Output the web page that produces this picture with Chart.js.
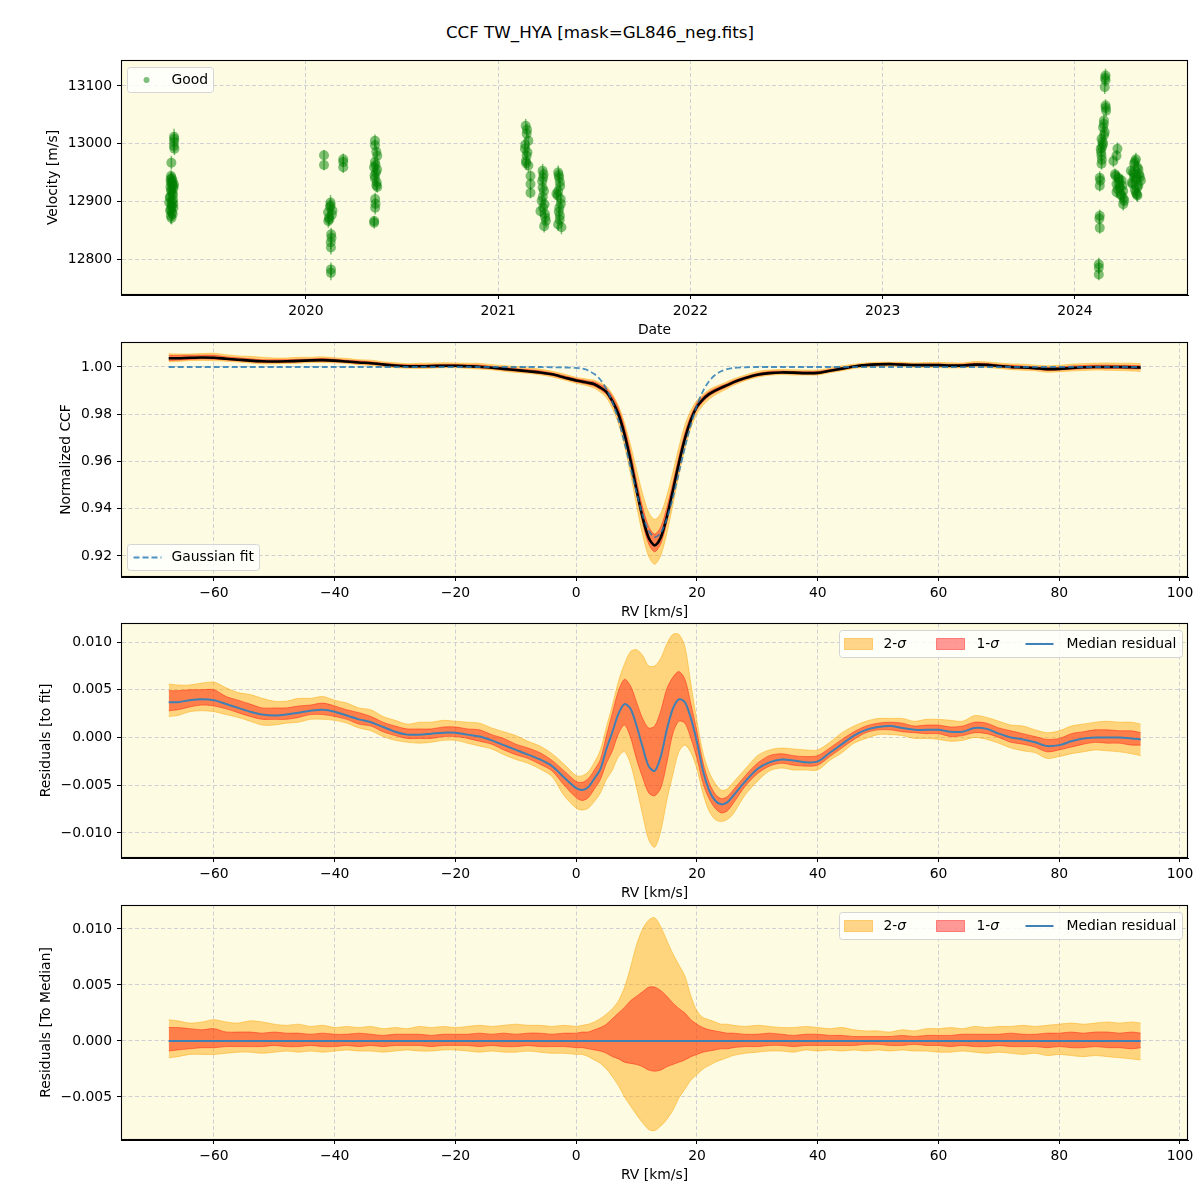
<!DOCTYPE html>
<html>
<head>
<meta charset="utf-8">
<script src="https://cdn.jsdelivr.net/npm/chart.js@4.4.1/dist/chart.umd.min.js"></script>
<style>
  body { margin: 0; background: #fff; width: 1200px; height: 1200px; position: relative; overflow: hidden; font-family: "DejaVu Sans", sans-serif; }
  #title { position: absolute; left: 0; top: 22px; width: 1200px; text-align: center; font-size: 16.7px; color: #000; }
  canvas { position: absolute; left: 0; }
</style>
</head>
<body>
<div id="title">CCF TW_HYA [mask=GL846_neg.fits]</div>
<canvas id="c1" width="1200" height="305" style="top:40px"></canvas>
<canvas id="c2" width="1200" height="305" style="top:322px"></canvas>
<canvas id="c3" width="1200" height="305" style="top:603px"></canvas>
<canvas id="c4" width="1200" height="305" style="top:885px"></canvas>
<script>
// ---------- data: top panel (RV time series) ----------
const yearTicks = [2020, 2021, 2022, 2023, 2024];
const velTicks = [12800, 12900, 13000, 13100];

const obsDate = [
  2019.314, 2019.314, 2019.316, 2019.300, 2019.298, 2019.297, 2019.305, 2019.310, 2019.300, 2019.308, 2019.292, 2019.303,
  2019.300, 2019.311, 2019.293, 2019.303, 2019.297, 2019.306, 2019.295, 2019.309, 2019.289, 2019.313, 2019.302,
  2020.094, 2020.094, 2020.194, 2020.194, 2020.194,
  2020.128, 2020.115, 2020.138, 2020.120, 2020.116, 2020.128, 2020.133, 2020.130, 2020.130, 2020.130,
  2020.359, 2020.359, 2020.371, 2020.359, 2020.354, 2020.364, 2020.359, 2020.368, 2020.371, 2020.360, 2020.360, 2020.355, 2020.355,
  2021.143, 2021.148, 2021.157, 2021.139, 2021.148, 2021.144, 2021.157,
  2021.168, 2021.168, 2021.168,
  2021.231, 2021.234, 2021.231, 2021.226, 2021.234, 2021.243, 2021.248, 2021.239, 2021.220,
  2021.312, 2021.317, 2021.321, 2021.312, 2021.325, 2021.318, 2021.321, 2021.312, 2021.329, 2021.303,
  2024.159, 2024.159, 2024.155, 2024.159, 2024.162, 2024.151, 2024.146, 2024.155, 2024.138, 2024.146, 2024.134,
  2024.138, 2024.138, 2024.129, 2024.129, 2024.129, 2024.129, 2024.124, 2024.124, 2024.151, 2024.141,
  2024.221, 2024.216, 2024.200,
  2024.208, 2024.225, 2024.243, 2024.216, 2024.234, 2024.251, 2024.216, 2024.243, 2024.256, 2024.251,
  2024.317, 2024.308, 2024.325, 2024.291, 2024.334, 2024.308, 2024.343, 2024.299, 2024.325, 2024.317, 2024.325, 2024.308,
  // points hidden inside the dense blobs
  2019.296, 2019.304, 2019.312, 2019.299, 2019.306, 2019.294, 2019.310, 2019.302, 2019.298, 2019.307, 2019.301, 2019.315, 2019.313,
  2020.125, 2020.135, 2020.122, 2020.131, 2020.129,
  2020.366, 2020.362, 2020.370, 2020.357, 2020.366, 2020.362,
  2021.150, 2021.141, 2021.152, 2021.146,
  2021.236, 2021.229, 2021.238, 2021.241, 2021.245, 2021.232,
  2021.315, 2021.322, 2021.310, 2021.326, 2021.315, 2021.320,
  2024.157, 2024.160, 2024.150, 2024.144, 2024.136, 2024.140, 2024.132, 2024.127, 2024.124,
  2024.212, 2024.230, 2024.247, 2024.222, 2024.238, 2024.253, 2024.228,
  2024.312, 2024.330, 2024.302, 2024.338, 2024.320, 2024.296, 2024.330, 2024.312, 2024.322
];
const obsVel = [
  13012, 13003, 12991, 12967, 12944, 12933, 12928, 12922, 12917, 12911, 12906, 12900,
  12894, 12889, 12884, 12881, 12875, 12936, 12925, 12903, 12898, 12930, 12940,
  12980, 12963, 12973, 12968, 12959,
  12898, 12881, 12884, 12872, 12866, 12893, 12837, 12820, 12782, 12776,
  13005, 12997, 12979, 12968, 12959, 12950, 12940, 12933, 12925, 12904, 12889, 12866, 12863,
  13031, 13017, 13005, 12991, 12979, 12970, 12962,
  12944, 12930, 12915,
  12953, 12941, 12924, 12901, 12889, 12878, 12866, 12857, 12883,
  12950, 12941, 12933, 12918, 12904, 12889, 12875, 12860, 12855, 12913,
  13118, 13110, 13098, 13066, 13057, 13040, 13028, 13020, 13008, 12999, 12991,
  12979, 12965, 12941, 12927, 12875, 12854, 12791, 12773, 13015, 12994,
  12991, 12979, 12970,
  12947, 12941, 12936, 12930, 12924, 12918, 12916, 12910, 12901, 12895,
  12973, 12965, 12959, 12953, 12947, 12941, 12936, 12930, 12924, 12915, 12910, 12947,
  12938, 12932, 12926, 12920, 12914, 12908, 12896, 12891, 12886, 12878, 12871, 13008, 12996,
  12890, 12877, 12869, 12843, 12829,
  12986, 12963, 12955, 12945, 12928, 12896,
  13024, 12998, 12985, 12966,
  12947, 12935, 12918, 12895, 12872, 12908,
  12945, 12926, 12910, 12896, 12882, 12868,
  13114, 13062, 13034, 13003, 12985, 12972, 12936, 12870, 12785,
  12944, 12938, 12927, 12921, 12912, 12905, 12932,
  12969, 12955, 12950, 12942, 12938, 12933, 12928, 12920, 12912
];
const obsErr = [
  14, 12, 11, 12, 10, 11, 12, 13, 11, 12, 10, 12,
  11, 12, 13, 11, 14, 12, 11, 12, 10, 12, 11,
  9, 9, 10, 9, 10,
  13, 12, 12, 11, 12, 12, 11, 12, 12, 13,
  11, 10, 12, 11, 10, 11, 12, 11, 10, 11, 12, 9, 10,
  12, 11, 12, 11, 10, 11, 12,
  10, 11, 10,
  12, 11, 10, 11, 12, 11, 12, 11, 10,
  12, 11, 12, 11, 10, 11, 12, 11, 12, 11,
  12, 11, 12, 11, 10, 11, 10, 11, 10, 11, 10,
  11, 10, 11, 10, 11, 10, 11, 10, 11, 10,
  11, 10, 11,
  10, 11, 10, 11, 10, 11, 10, 11, 10, 11,
  11, 10, 11, 10, 11, 10, 11, 10, 11, 10, 11, 10,
  11, 12, 11, 12, 11, 12, 11, 12, 11, 12, 11, 12, 11,
  12, 11, 12, 11, 12,
  11, 10, 11, 10, 11, 10,
  11, 12, 11, 12,
  11, 10, 11, 10, 11, 10,
  11, 10, 11, 10, 11, 10,
  11, 10, 11, 10, 11, 10, 11, 10, 11,
  10, 11, 10, 11, 10, 11, 10,
  11, 10, 11, 10, 11, 10, 11, 10, 11
];

// ---------- data: CCF panels ----------
const rvTicks = [-60, -40, -20, 0, 20, 40, 60, 80, 100];
const ccfTicks = [0.92, 0.94, 0.96, 0.98, 1.00];
const fitTicks = [-0.010, -0.005, 0.000, 0.005, 0.010];
const medTicks = [-0.005, 0.000, 0.005, 0.010];

const rv = [
  -67.5, -66, -64, -62, -60, -58, -56, -54, -52, -50, -48, -46, -44, -42, -40, -38, -36, -34, -32, -30,
  -28, -26, -24, -22, -20, -18, -16, -14, -12, -10, -8, -6, -4, -2, 0,
  1, 2, 3, 4, 5, 6, 7, 8, 9, 10, 11, 12, 13, 14, 15, 16, 17, 18, 19, 20, 21, 22, 23, 24, 25, 26,
  28, 30, 32, 34, 36, 38, 40, 42, 44, 46, 48, 50, 52, 54, 56, 58, 60, 62, 64, 66,
  68, 70, 72, 74, 76, 78, 80, 82, 84, 86, 88, 90, 92, 93.5
];
// gaussian fit (dashed line, panel 2)
const gaussFit = [
  1.0000, 1.0000, 1.0000, 1.0000, 1.0000, 1.0000, 1.0000, 1.0000, 1.0000, 1.0000, 1.0000, 1.0000, 1.0000, 1.0000, 1.0000, 1.0000, 1.0000, 1.0000, 1.0000, 1.0000,
  1.0000, 1.0000, 1.0000, 1.0000, 1.0000, 1.0000, 1.0000, 1.0000, 1.0000, 1.0000, 1.0000, 1.0000, 0.9999, 0.9998, 0.9996,
  0.9993, 0.9985, 0.9970, 0.9946, 0.9907, 0.9850, 0.9775, 0.9680, 0.9574, 0.9467, 0.9373, 0.9307, 0.9280, 0.9298, 0.9357, 0.9446, 0.9552, 0.9660, 0.9757, 0.9837, 0.9898, 0.9940, 0.9966, 0.9982, 0.9991, 0.9996,
  0.9999, 1.0000, 1.0000, 1.0000, 1.0000, 1.0000, 1.0000, 1.0000, 1.0000, 1.0000, 1.0000, 1.0000, 1.0000, 1.0000, 1.0000, 1.0000, 1.0000, 1.0000, 1.0000, 1.0000,
  1.0000, 1.0000, 1.0000, 1.0000, 1.0000, 1.0000, 1.0000, 1.0000, 1.0000, 1.0000, 1.0000, 1.0000, 1.0000, 1.0000
];
// median residual to the fit (panel 3 blue line)
const medResid = [
  0.0037, 0.0037, 0.0039, 0.0040, 0.0039, 0.0035, 0.0031, 0.0027, 0.0024, 0.0023, 0.0024, 0.0026, 0.0028, 0.0029, 0.0027, 0.0023, 0.0019, 0.0016, 0.0011, 0.0006,
  0.0003, 0.0003, 0.0004, 0.0005, 0.0005, 0.0003, 0.0001, -0.0003, -0.0008, -0.0013, -0.0018, -0.0023, -0.0030, -0.0042, -0.0053,
  -0.0055, -0.0052, -0.0043, -0.0033, -0.0012, 0.0006, 0.0025, 0.0035, 0.0030, 0.0012, -0.0010, -0.0030, -0.0035, -0.0020, 0.0008, 0.0030, 0.0040, 0.0037, 0.0020, -0.0005, -0.0035, -0.0055, -0.0066, -0.0070, -0.0068, -0.0061,
  -0.0046, -0.0033, -0.0026, -0.0023, -0.0024, -0.0026, -0.0025, -0.0016, -0.0007, 0.0002, 0.0008, 0.0011, 0.0012, 0.0010, 0.0008, 0.0008, 0.0008, 0.0006, 0.0006, 0.0010,
  0.0009, 0.0004, 0.0000, -0.0002, -0.0005, -0.0009, -0.0008, -0.0004, -0.0001, 0.0000, 0.0000, 0.0000, -0.0001, -0.0002
];
// spread around the median CCF (panel 4), also used for panel 2
const sig2Up = [
  0.0019, 0.0018, 0.0016, 0.0017, 0.0019, 0.0017, 0.0016, 0.0018, 0.0017, 0.0015, 0.0014, 0.0015, 0.0013, 0.0014, 0.0012, 0.0013, 0.0012, 0.0013, 0.0011, 0.0012,
  0.0011, 0.0013, 0.0012, 0.0013, 0.0012, 0.0013, 0.0014, 0.0013, 0.0014, 0.0015, 0.0014, 0.0014, 0.0013, 0.0014, 0.0013,
  0.0014, 0.0015, 0.0017, 0.0020, 0.0024, 0.0029, 0.0036, 0.0048, 0.0066, 0.0086, 0.0100, 0.0108, 0.0110, 0.0102, 0.0090, 0.0078, 0.0068, 0.0058, 0.0040, 0.0027, 0.0021, 0.0019, 0.0017, 0.0015, 0.0015, 0.0014,
  0.0013, 0.0014, 0.0013, 0.0012, 0.0012, 0.0013, 0.0012, 0.0011, 0.0012, 0.0010, 0.0009, 0.0009, 0.0008, 0.0010, 0.0009, 0.0011, 0.0011, 0.0012, 0.0011, 0.0013,
  0.0012, 0.0013, 0.0013, 0.0014, 0.0013, 0.0014, 0.0015, 0.0016, 0.0015, 0.0016, 0.0017, 0.0016, 0.0017, 0.0016
];
const sig1Up = [
  0.0012, 0.0012, 0.0011, 0.0010, 0.0011, 0.0008, 0.0008, 0.0008, 0.0007, 0.0008, 0.0007, 0.0007, 0.0006, 0.0007, 0.0006, 0.0006, 0.0007, 0.0006, 0.0005, 0.0006,
  0.0006, 0.0006, 0.0005, 0.0006, 0.0006, 0.0006, 0.0007, 0.0006, 0.0007, 0.0006, 0.0007, 0.0007, 0.0006, 0.0007, 0.0007,
  0.0008, 0.0008, 0.0010, 0.0012, 0.0015, 0.0020, 0.0025, 0.0030, 0.0036, 0.0040, 0.0044, 0.0048, 0.0048, 0.0045, 0.0040, 0.0034, 0.0029, 0.0025, 0.0019, 0.0015, 0.0012, 0.0010, 0.0009, 0.0008, 0.0007, 0.0007,
  0.0006, 0.0006, 0.0007, 0.0006, 0.0005, 0.0006, 0.0006, 0.0005, 0.0005, 0.0004, 0.0004, 0.0004, 0.0004, 0.0005, 0.0004, 0.0005, 0.0005, 0.0005, 0.0006, 0.0006,
  0.0006, 0.0006, 0.0007, 0.0006, 0.0006, 0.0007, 0.0007, 0.0008, 0.0007, 0.0008, 0.0008, 0.0007, 0.0008, 0.0007
];
const sig1Dn = [
  -0.0009, -0.0008, -0.0007, -0.0006, -0.0006, -0.0005, -0.0005, -0.0005, -0.0005, -0.0004, -0.0005, -0.0005, -0.0004, -0.0005, -0.0005, -0.0004, -0.0005, -0.0004, -0.0005, -0.0004,
  -0.0004, -0.0004, -0.0005, -0.0004, -0.0004, -0.0004, -0.0005, -0.0004, -0.0005, -0.0005, -0.0004, -0.0005, -0.0005, -0.0005, -0.0006,
  -0.0006, -0.0007, -0.0008, -0.0009, -0.0011, -0.0014, -0.0016, -0.0019, -0.0020, -0.0021, -0.0023, -0.0026, -0.0027, -0.0026, -0.0023, -0.0021, -0.0019, -0.0017, -0.0014, -0.0012, -0.0010, -0.0009, -0.0008, -0.0007, -0.0007, -0.0006,
  -0.0005, -0.0005, -0.0004, -0.0004, -0.0005, -0.0004, -0.0004, -0.0004, -0.0004, -0.0004, -0.0003, -0.0003, -0.0004, -0.0004, -0.0003, -0.0004, -0.0004, -0.0005, -0.0004, -0.0005,
  -0.0005, -0.0004, -0.0005, -0.0005, -0.0005, -0.0006, -0.0005, -0.0006, -0.0006, -0.0005, -0.0006, -0.0006, -0.0007, -0.0006
];
const sig2Dn = [
  -0.0015, -0.0014, -0.0012, -0.0012, -0.0012, -0.0011, -0.0010, -0.0010, -0.0011, -0.0010, -0.0009, -0.0010, -0.0009, -0.0010, -0.0009, -0.0008, -0.0009, -0.0009, -0.0010, -0.0009,
  -0.0008, -0.0009, -0.0009, -0.0008, -0.0008, -0.0009, -0.0010, -0.0009, -0.0010, -0.0010, -0.0009, -0.0010, -0.0011, -0.0011, -0.0012,
  -0.0012, -0.0014, -0.0017, -0.0020, -0.0025, -0.0032, -0.0040, -0.0050, -0.0058, -0.0066, -0.0073, -0.0079, -0.0080, -0.0076, -0.0070, -0.0062, -0.0051, -0.0043, -0.0035, -0.0030, -0.0025, -0.0022, -0.0019, -0.0017, -0.0015, -0.0013,
  -0.0011, -0.0010, -0.0009, -0.0009, -0.0010, -0.0008, -0.0009, -0.0008, -0.0009, -0.0008, -0.0009, -0.0008, -0.0009, -0.0008, -0.0009, -0.0009, -0.0010, -0.0010, -0.0009, -0.0010,
  -0.0011, -0.0010, -0.0011, -0.0012, -0.0011, -0.0013, -0.0012, -0.0013, -0.0014, -0.0013, -0.0014, -0.0015, -0.0016, -0.0017
];
// spread of the residuals to the fit (panel 3)
const fit2Up = [
  0.0019, 0.0018, 0.0016, 0.0017, 0.0019, 0.0017, 0.0016, 0.0018, 0.0017, 0.0015, 0.0014, 0.0015, 0.0013, 0.0014, 0.0012, 0.0013, 0.0012, 0.0013, 0.0011, 0.0012,
  0.0011, 0.0013, 0.0012, 0.0013, 0.0012, 0.0013, 0.0014, 0.0013, 0.0014, 0.0015, 0.0014, 0.0014, 0.0013, 0.0014, 0.0013,
  0.0015, 0.0016, 0.0017, 0.0020, 0.0023, 0.0028, 0.0034, 0.0042, 0.0060, 0.0080, 0.0096, 0.0105, 0.0110, 0.0103, 0.0090, 0.0078, 0.0068, 0.0058, 0.0036, 0.0022, 0.0019, 0.0019, 0.0018, 0.0015, 0.0014, 0.0014,
  0.0013, 0.0014, 0.0013, 0.0012, 0.0012, 0.0013, 0.0012, 0.0011, 0.0012, 0.0010, 0.0009, 0.0009, 0.0008, 0.0010, 0.0009, 0.0011, 0.0011, 0.0012, 0.0011, 0.0013,
  0.0012, 0.0013, 0.0013, 0.0014, 0.0013, 0.0014, 0.0015, 0.0016, 0.0015, 0.0016, 0.0017, 0.0016, 0.0017, 0.0016
];
const fit1Up = [
  0.0012, 0.0012, 0.0011, 0.0010, 0.0011, 0.0008, 0.0008, 0.0008, 0.0007, 0.0008, 0.0007, 0.0007, 0.0006, 0.0007, 0.0006, 0.0006, 0.0007, 0.0006, 0.0005, 0.0006,
  0.0006, 0.0006, 0.0005, 0.0006, 0.0006, 0.0006, 0.0007, 0.0006, 0.0007, 0.0006, 0.0007, 0.0007, 0.0006, 0.0007, 0.0007,
  0.0008, 0.0009, 0.0009, 0.0010, 0.0014, 0.0020, 0.0024, 0.0026, 0.0024, 0.0025, 0.0030, 0.0040, 0.0047, 0.0048, 0.0043, 0.0033, 0.0029, 0.0024, 0.0015, 0.0011, 0.0009, 0.0008, 0.0007, 0.0006, 0.0006, 0.0006,
  0.0006, 0.0006, 0.0007, 0.0006, 0.0005, 0.0006, 0.0006, 0.0005, 0.0005, 0.0004, 0.0004, 0.0004, 0.0004, 0.0005, 0.0004, 0.0005, 0.0005, 0.0005, 0.0006, 0.0006,
  0.0006, 0.0006, 0.0007, 0.0006, 0.0006, 0.0007, 0.0007, 0.0008, 0.0007, 0.0008, 0.0008, 0.0007, 0.0008, 0.0007
];
const fit1Dn = [
  -0.0009, -0.0008, -0.0007, -0.0006, -0.0006, -0.0005, -0.0005, -0.0005, -0.0005, -0.0004, -0.0005, -0.0005, -0.0004, -0.0005, -0.0005, -0.0004, -0.0005, -0.0004, -0.0005, -0.0004,
  -0.0004, -0.0004, -0.0005, -0.0004, -0.0004, -0.0004, -0.0005, -0.0004, -0.0005, -0.0005, -0.0004, -0.0005, -0.0005, -0.0008, -0.0010,
  -0.0011, -0.0011, -0.0011, -0.0011, -0.0015, -0.0020, -0.0021, -0.0022, -0.0030, -0.0035, -0.0032, -0.0028, -0.0026, -0.0033, -0.0035, -0.0026, -0.0023, -0.0022, -0.0021, -0.0017, -0.0013, -0.0009, -0.0008, -0.0009, -0.0009, -0.0008,
  -0.0005, -0.0005, -0.0004, -0.0004, -0.0005, -0.0004, -0.0004, -0.0004, -0.0004, -0.0004, -0.0003, -0.0003, -0.0004, -0.0004, -0.0003, -0.0004, -0.0004, -0.0005, -0.0004, -0.0005,
  -0.0005, -0.0004, -0.0005, -0.0005, -0.0005, -0.0006, -0.0005, -0.0006, -0.0006, -0.0005, -0.0006, -0.0006, -0.0007, -0.0006
];
const fit2Dn = [
  -0.0015, -0.0014, -0.0012, -0.0012, -0.0012, -0.0011, -0.0010, -0.0010, -0.0011, -0.0010, -0.0009, -0.0010, -0.0009, -0.0010, -0.0009, -0.0008, -0.0009, -0.0009, -0.0010, -0.0009,
  -0.0008, -0.0009, -0.0009, -0.0008, -0.0008, -0.0009, -0.0010, -0.0009, -0.0010, -0.0010, -0.0009, -0.0010, -0.0011, -0.0019, -0.0021,
  -0.0021, -0.0022, -0.0024, -0.0025, -0.0032, -0.0040, -0.0045, -0.0050, -0.0058, -0.0065, -0.0071, -0.0077, -0.0080, -0.0078, -0.0074, -0.0069, -0.0055, -0.0045, -0.0036, -0.0028, -0.0024, -0.0022, -0.0020, -0.0018, -0.0018, -0.0019,
  -0.0014, -0.0013, -0.0009, -0.0009, -0.0010, -0.0008, -0.0009, -0.0008, -0.0009, -0.0008, -0.0009, -0.0008, -0.0009, -0.0008, -0.0009, -0.0009, -0.0010, -0.0010, -0.0009, -0.0010,
  -0.0011, -0.0010, -0.0011, -0.0012, -0.0011, -0.0013, -0.0012, -0.0013, -0.0014, -0.0013, -0.0014, -0.0015, -0.0016, -0.0017
];

[gaussFit, medResid, sig2Up, sig1Up, sig1Dn, sig2Dn, fit2Up, fit1Up, fit1Dn, fit2Dn].forEach((a, k) => {
  if (a.length !== rv.length) throw new Error('array ' + k + ' has ' + a.length + ' values, rv has ' + rv.length);
});
if (obsVel.length !== obsDate.length || obsErr.length !== obsDate.length) {
  throw new Error('obs arrays: ' + obsDate.length + ' / ' + obsVel.length + ' / ' + obsErr.length);
}

// ---------- styles ----------
const BG = '#fdfce2';
const GRID = '#cfcfd4';
const C2 = 'rgba(255,165,0,0.45)';
const C1 = 'rgba(255,0,0,0.4)';
const BLUE = '#3f80b5';
const FONT = '"DejaVu Sans", sans-serif';

Chart.defaults.font.family = FONT;
Chart.defaults.font.size = 13.9;
Chart.defaults.color = '#000';

const minus = (v, d) => (v < -1e-12 ? '\u2212' : '') + Math.abs(v).toFixed(d);
const pts = (ys) => rv.map((x, i) => ({ x: x, y: ys[i] }));
const sum = (a, b) => a.map((v, i) => v + b[i]);

// chart-area background and the four-sided frame
const areaPlugin = {
  id: 'areaPlugin',
  beforeDraw(chart) {
    const { ctx, chartArea: a } = chart;
    ctx.save();
    ctx.fillStyle = BG;
    ctx.fillRect(a.left, a.top, a.width, a.height);
    ctx.restore();
  },
  afterDraw(chart) {
    const { ctx, chartArea: a } = chart;
    ctx.save();
    ctx.strokeStyle = '#000';
    ctx.lineWidth = 1.1;
    ctx.strokeRect(Math.round(a.left) + 0.5, Math.round(a.top) + 0.5, Math.round(a.width) - 1, Math.round(a.height) - 1);
    ctx.restore();
  }
};

// vertical error bars on the velocity points
const errBars = {
  id: 'errBars',
  beforeDatasetsDraw(chart) {
    if (chart.canvas.id !== 'c1') return;
    const { ctx, chartArea: a } = chart;
    const xs = chart.scales.x, ys = chart.scales.y;
    ctx.save();
    ctx.beginPath();
    ctx.rect(a.left, a.top, a.width, a.height);
    ctx.clip();
    ctx.strokeStyle = 'rgba(0,128,0,0.5)';
    ctx.lineWidth = 1.5;
    obsDate.forEach((d, i) => {
      const px = xs.getPixelForValue(d);
      ctx.beginPath();
      ctx.moveTo(px, ys.getPixelForValue(obsVel[i] - obsErr[i]));
      ctx.lineTo(px, ys.getPixelForValue(obsVel[i] + obsErr[i]));
      ctx.stroke();
    });
    ctx.restore();
  }
};

// matplotlib-like legend boxes
const legends = {
  c1: { w: 86, h: 25, items: [{ kind: 'dot', at: 19, tx: 44, label: 'Good' }] },
  c2: { w: 132, h: 26, bottom: true, items: [{ kind: 'dash', at: 6, tx: 44, label: 'Gaussian fit' }] },
  c3: { w: 343, h: 27, right: true, items: [
    { kind: 'patch', color: C2, at: 5, tx: 44, label: '2-', sigma: true },
    { kind: 'patch', color: C1, at: 97, tx: 137, label: '1-', sigma: true },
    { kind: 'line', at: 186, tx: 227, label: 'Median residual' }
  ] }
};
legends.c4 = legends.c3;

function boxPath(ctx, x, y, w, h, r) {
  ctx.beginPath();
  ctx.moveTo(x + r, y);
  ctx.lineTo(x + w - r, y);
  ctx.arcTo(x + w, y, x + w, y + r, r);
  ctx.lineTo(x + w, y + h - r);
  ctx.arcTo(x + w, y + h, x + w - r, y + h, r);
  ctx.lineTo(x + r, y + h);
  ctx.arcTo(x, y + h, x, y + h - r, r);
  ctx.lineTo(x, y + r);
  ctx.arcTo(x, y, x + r, y, r);
  ctx.closePath();
}

const mplLegend = {
  id: 'mplLegend',
  afterDraw(chart) {
    const L = legends[chart.canvas.id];
    if (!L) return;
    const { ctx, chartArea: a } = chart;
    const x = Math.round(L.right ? a.right - 6 - L.w : a.left + 6) + 0.5;
    const y = Math.round(L.bottom ? a.bottom - 7 - L.h : a.top + 7) + 0.5;
    const cy = y + L.h / 2;
    ctx.save();
    boxPath(ctx, x, y, L.w, L.h, 3);
    ctx.fillStyle = 'rgba(255,255,255,0.8)';
    ctx.fill();
    ctx.strokeStyle = '#d5d5d5';
    ctx.lineWidth = 1;
    ctx.stroke();
    L.items.forEach(it => {
      const sx = x + it.at;
      if (it.kind === 'dot') {
        ctx.fillStyle = 'rgba(0,128,0,0.5)';
        ctx.beginPath();
        ctx.arc(sx, cy, 3, 0, Math.PI * 2);
        ctx.fill();
      } else if (it.kind === 'dash') {
        ctx.strokeStyle = 'rgba(31,119,180,0.8)';
        ctx.lineWidth = 2;
        ctx.setLineDash([6, 3]);
        ctx.beginPath();
        ctx.moveTo(sx, cy);
        ctx.lineTo(sx + 28, cy);
        ctx.stroke();
        ctx.setLineDash([]);
      } else if (it.kind === 'patch') {
        ctx.fillStyle = it.color;
        ctx.fillRect(sx, cy - 5.5, 28, 11);
        ctx.strokeStyle = it.color;
        ctx.lineWidth = 1;
        ctx.strokeRect(sx, cy - 5.5, 28, 11);
      } else if (it.kind === 'line') {
        ctx.strokeStyle = BLUE;
        ctx.lineWidth = 2;
        ctx.beginPath();
        ctx.moveTo(sx, cy);
        ctx.lineTo(sx + 28, cy);
        ctx.stroke();
      }
      ctx.fillStyle = '#000';
      ctx.font = '13.9px ' + FONT;
      ctx.textAlign = 'left';
      ctx.textBaseline = 'middle';
      ctx.fillText(it.label, x + it.tx, cy);
      if (it.sigma) {
        const w = ctx.measureText(it.label).width;
        ctx.font = 'italic 13.9px ' + FONT;
        ctx.fillText('\u03c3', x + it.tx + w, cy);
      }
    });
    ctx.restore();
  }
};

// ---------- axes ----------
function gridOpts() {
  return { color: GRID, lineWidth: 1, tickLength: 4, tickColor: '#000', tickWidth: 1, tickBorderDash: [] };
}
function xAxis(min, max, ticks, fmt, title) {
  return {
    type: 'linear', min: min, max: max, bounds: 'data',
    afterBuildTicks: s => { s.ticks = ticks.map(v => ({ value: v })); },
    afterFit: s => { s.height = 50; },
    ticks: { callback: fmt, padding: 4.5, maxRotation: 0, autoSkip: false },
    grid: gridOpts(),
    border: { display: true, color: '#000', width: 1, dash: [4, 2.5] },
    title: { display: true, text: title, padding: { top: 0, bottom: 6.2 } }
  };
}
function yAxis(min, max, ticks, fmt, title, pad) {
  return {
    type: 'linear', min: min, max: max, bounds: 'data',
    afterBuildTicks: s => { s.ticks = ticks.map(v => ({ value: v })); },
    afterFit: s => { s.width = 121; },
    ticks: { callback: fmt, padding: 5, autoSkip: false },
    grid: gridOpts(),
    border: { display: true, color: '#000', width: 1, dash: [4, 2.5] },
    title: { display: true, text: title, padding: { top: pad, bottom: 0 } }
  };
}

function panel(id, type, datasets, xOpt, yOpt) {
  return new Chart(document.getElementById(id), {
    type: type,
    data: { datasets: datasets },
    options: {
      responsive: false,
      animation: false,
      devicePixelRatio: 1,
      layout: { padding: { left: 0, right: 12, top: 20, bottom: 0 } },
      scales: { x: xOpt, y: yOpt },
      plugins: { legend: { display: false }, tooltip: { enabled: false } },
      elements: { line: { tension: 0.3 } }
    },
    plugins: [areaPlugin, errBars, mplLegend]
  });
}

function band(lo, hi, color, order) {
  return [
    { data: pts(lo), borderColor: color, backgroundColor: color, borderWidth: 1, pointRadius: 0, fill: false, order: order },
    { data: pts(hi), borderColor: color, backgroundColor: color, borderWidth: 1, pointRadius: 0, fill: '-1', order: order }
  ];
}

const rvFmt = v => minus(v, 0);

// ---------- panel 1: velocity vs date ----------
panel('c1', 'scatter', [{
  data: obsDate.map((d, i) => ({ x: d, y: obsVel[i] })),
  pointRadius: 5,
  pointBackgroundColor: 'rgba(0,128,0,0.5)',
  pointBorderWidth: 0,
  showLine: false
}],
  xAxis(2019.038, 2024.588, yearTicks, v => String(v), 'Date'),
  yAxis(12737.6, 13145, velTicks, v => String(v), 'Velocity [m/s]', 44.7));

// ---------- panel 2: CCF ----------
const ccfMed = sum(gaussFit, medResid);
panel('c2', 'line', [
  ...band(sum(ccfMed, sig2Dn), sum(ccfMed, sig2Up), C2, 3),
  ...band(sum(ccfMed, sig1Dn), sum(ccfMed, sig1Up), C1, 2),
  { data: pts(ccfMed), borderColor: '#000', borderWidth: 2.6, pointRadius: 0, fill: false, order: 1 },
  { data: pts(gaussFit), borderColor: 'rgba(31,119,180,0.8)', borderWidth: 1.8, borderDash: [6, 3], pointRadius: 0, fill: false, order: 0 }
],
  xAxis(-75.4, 101.33, rvTicks, rvFmt, 'RV [km/s]'),
  yAxis(0.91111, 1.01058, ccfTicks, v => v.toFixed(2), 'Normalized CCF', 57.7));

// ---------- panel 3: residuals to fit ----------
panel('c3', 'line', [
  ...band(sum(medResid, fit2Dn), sum(medResid, fit2Up), C2, 3),
  ...band(sum(medResid, fit1Dn), sum(medResid, fit1Up), C1, 2),
  { data: pts(medResid), borderColor: BLUE, borderWidth: 2, pointRadius: 0, fill: false, order: 1 }
],
  xAxis(-75.4, 101.33, rvTicks, rvFmt, 'RV [km/s]'),
  yAxis(-0.01262, 0.01199, fitTicks, v => minus(v, 3), 'Residuals [to fit]', 37.7));

// ---------- panel 4: residuals to median ----------
panel('c4', 'line', [
  ...band(sig2Dn, sig2Up, C2, 3),
  ...band(sig1Dn, sig1Up, C1, 2),
  { data: pts(rv.map(() => 0)), borderColor: BLUE, borderWidth: 2, pointRadius: 0, fill: false, order: 1 }
],
  xAxis(-75.4, 101.33, rvTicks, rvFmt, 'RV [km/s]'),
  yAxis(-0.00884, 0.01214, medTicks, v => minus(v, 3), 'Residuals [To Median]', 37.7));
</script>
</body>
</html>
